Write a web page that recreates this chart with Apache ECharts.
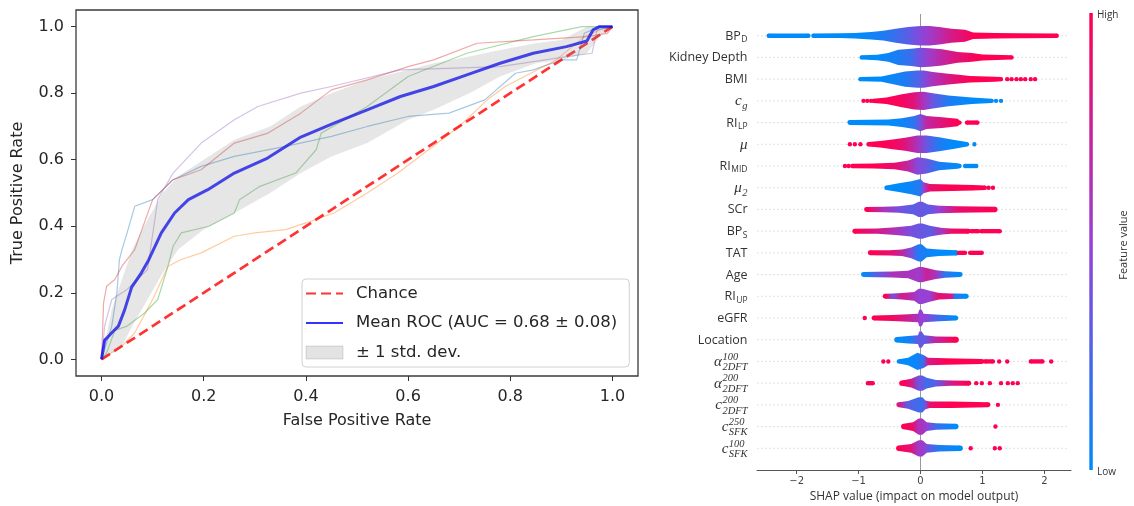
<!DOCTYPE html>
<html><head><meta charset="utf-8">
<script src="https://cdn.jsdelivr.net/npm/echarts@6/dist/echarts.min.js"></script>
<style>html,body{margin:0;padding:0;background:#fff}#main{width:1134px;height:506px}</style>
</head><body><div id="main"></div>
<script>
// ---------------- ROC panel data ----------------
const rocTicks = [0, 0.2, 0.4, 0.6, 0.8, 1.0];
const chance = [[0, 0], [1, 1]];
const meanRoc = [[0,0],[0.006,0.057],[0.02,0.08],[0.033,0.1],[0.045,0.148],[0.059,0.217],[0.078,0.26],[0.092,0.298],[0.117,0.38],[0.143,0.44],[0.17,0.48],[0.208,0.51],[0.26,0.56],[0.325,0.605],[0.39,0.668],[0.455,0.71],[0.52,0.75],[0.585,0.79],[0.65,0.82],[0.715,0.855],[0.78,0.89],[0.845,0.92],[0.91,0.94],[0.95,0.957],[0.962,0.99],[0.975,1.0],[1,1]];
const stdBand = [[0,0,0],[0.02,0.02,0.15],[0.04,0.04,0.24],[0.06,0.1,0.33],[0.09,0.18,0.42],[0.12,0.26,0.5],[0.15,0.33,0.55],[0.2,0.39,0.6],[0.26,0.44,0.66],[0.33,0.5,0.7],[0.39,0.56,0.76],[0.45,0.61,0.8],[0.52,0.65,0.84],[0.6,0.72,0.87],[0.65,0.75,0.89],[0.72,0.8,0.91],[0.78,0.85,0.93],[0.85,0.89,0.95],[0.9,0.9,0.96],[0.95,0.92,1.0],[0.975,0.97,1.0],[1,1,1]];
const fold0 = [[0,0],[0.01,0.05],[0.02,0.1],[0.03,0.2],[0.035,0.3],[0.04,0.33],[0.05,0.38],[0.065,0.46],[0.1,0.48],[0.14,0.54],[0.195,0.58],[0.26,0.61],[0.36,0.64],[0.45,0.67],[0.52,0.7],[0.6,0.73],[0.68,0.74],[0.75,0.78],[0.81,0.86],[0.845,0.87],[0.9,0.9],[0.93,0.9],[0.945,0.98],[0.975,1],[1,1]];
const fold1 = [[0,0],[0.02,0.02],[0.04,0.04],[0.065,0.08],[0.1,0.18],[0.13,0.28],[0.156,0.3],[0.195,0.32],[0.26,0.37],[0.3,0.38],[0.36,0.39],[0.4,0.41],[0.455,0.44],[0.52,0.5],[0.58,0.56],[0.64,0.63],[0.7,0.7],[0.755,0.78],[0.79,0.82],[0.89,0.9],[0.945,0.97],[0.975,0.99],[1,1]];
const fold2 = [[0,0],[0.01,0.02],[0.026,0.087],[0.05,0.1],[0.085,0.14],[0.11,0.18],[0.13,0.28],[0.14,0.34],[0.156,0.38],[0.21,0.4],[0.26,0.44],[0.27,0.48],[0.31,0.52],[0.38,0.56],[0.42,0.63],[0.43,0.68],[0.52,0.76],[0.6,0.85],[0.715,0.92],[0.845,0.97],[0.94,1.0],[1,1]];
const fold3 = [[0,0],[0.004,0.17],[0.01,0.22],[0.026,0.24],[0.04,0.28],[0.065,0.33],[0.1,0.48],[0.14,0.54],[0.195,0.57],[0.26,0.65],[0.326,0.68],[0.39,0.74],[0.45,0.81],[0.52,0.84],[0.6,0.88],[0.65,0.9],[0.735,0.95],[0.845,0.96],[0.95,0.97],[0.99,0.98],[1,1]];
const fold4 = [[0,0],[0.006,0.1],[0.02,0.18],[0.05,0.21],[0.09,0.27],[0.11,0.48],[0.14,0.56],[0.195,0.65],[0.26,0.72],[0.306,0.76],[0.39,0.8],[0.45,0.82],[0.585,0.87],[0.78,0.88],[0.91,0.91],[0.96,0.92],[0.97,0.99],[1,1]];
const legendNames = ['Chance', 'Mean ROC (AUC = 0.68 \u00b1 0.08)', '\u00b1 1 std. dev.'];

// ---------------- SHAP panel data ----------------
const shapTicks = [-2, -1, 0, 1, 2];
const features = ['BP_D','Kidney Depth','BMI','c_g','RI_LP','\u03bc','RI_MID','\u03bc_2','SCr','BP_S','TAT','Age','RI_UP','eGFR','Location','\u03b1^100_2DFT','\u03b1^200_2DFT','c^200_2DFT','c^250_SFK','c^100_SFK'];
// per feature: runs of [shap value, local density (spread), feature value 0=low..1=high]
const swarmRuns = [
  [[[-2.45,2,0],[-1.81,2,0]],
   [[-1.73,2,0],[-1.3,2.2,0],[-1.06,2.5,0],[-0.8,3.5,0.05],[-0.6,4.5,0.1],[-0.4,6.5,0.2],[-0.2,8,0.3],[0,9,0.45],[0.15,9,0.55],[0.3,8,0.65],[0.5,6.5,0.8],[0.72,5.5,0.9],[0.85,3,1],[1.2,2.5,1],[1.6,2.3,1],[2.2,2,1]]],
  [[[-0.95,2,0],[-0.7,2.5,0],[-0.52,4,0.05],[-0.36,7,0.1],[-0.15,8,0.2],[0,9,0.4],[0.15,8.5,0.55],[0.35,7.5,0.7],[0.6,5,0.85],[0.83,4,0.95],[1.0,2.8,1],[1.47,2,1]]],
  [[[-0.97,2,0],[-0.63,2.5,0],[-0.42,5,0.05],[-0.25,7,0.1],[-0.05,8,0.25],[0.05,8,0.4],[0.2,6.5,0.6],[0.45,5,0.8],[0.62,4,0.9],[0.8,3,1],[1.2,2.3,1],[1.3,2,1]]],
  [[[-0.76,2,1],[-0.55,3,1],[-0.3,6,0.95],[-0.1,8,0.85],[0.05,8.5,0.6],[0.2,7,0.35],[0.45,5,0.1],[0.83,3,0],[1.15,2,0]]],
  [[[-1.14,2.3,0],[-0.52,2.8,0],[-0.3,4,0.05],[-0.1,6,0.15],[0,8,0.4],[0.1,6,0.7],[0.35,5,0.85],[0.6,3.5,1],[0.63,2,1]],
   [[0.75,2,1],[0.92,2,1]]],
  [[[-0.84,2,1],[-0.65,3,1],[-0.45,4.5,0.95],[-0.25,6,0.85],[-0.05,8,0.6],[0.1,8,0.35],[0.3,6.5,0.1],[0.55,4,0],[0.75,2,0]]],
  [[[-1.1,2,1],[-0.75,2.3,1],[-0.42,3,0.9],[-0.2,5,0.7],[-0.05,8,0.45],[0.1,7,0.35],[0.3,4,0.1],[0.6,2.5,0],[0.63,2,0]],
   [[0.72,2,0],[0.9,2,0]]],
  [[[-0.55,2,0],[-0.35,4,0],[-0.15,6,0.05],[0,8,0.15],[0.05,5,0.5],[0.15,3.5,0.9],[0.5,3,1],[0.85,2.5,1],[1.04,2,1]]],
  [[[-0.87,2.3,1],[-0.6,2.5,0.6],[-0.35,3,0.4],[-0.12,4.5,0.3],[-0.03,7,0.35],[0.03,7,0.35],[0.12,4.5,0.3],[0.3,3.5,0.5],[0.6,3,0.9],[1.2,2.5,1]]],
  [[[-1.06,2.3,1],[-0.7,2.5,0.8],[-0.4,3.5,0.6],[-0.15,5,0.4],[-0.03,7,0.35],[0.03,7,0.35],[0.15,5,0.3],[0.35,3,0.6],[0.5,2.5,0.9],[0.77,2.3,1]],
   [[0.82,2,1],[0.93,2,1]], [[0.98,2,1],[1.28,2,1]]],
  [[[-0.81,2.3,1],[-0.5,2.5,0.9],[-0.3,3,0.7],[-0.15,5,0.4],[-0.03,8,0.1],[0.02,8,0.1],[0.1,4,0.05],[0.3,3,0],[0.58,2.5,0]],
   [[0.62,2,1],[0.72,2,1]], [[0.8,2,1],[0.99,2,1]]],
  [[[-0.92,2.3,0],[-0.7,2.5,0.3],[-0.45,2.8,0.6],[-0.2,3.5,0.6],[-0.03,7,0.55],[0.03,7,0.6],[0.1,6,0.75],[0.25,4,0.6],[0.4,3,0.15],[0.64,2.3,0]]],
  [[[-0.57,2.3,1],[-0.45,2.5,0.4],[-0.3,3,0.8],[-0.1,4,0.6],[-0.03,7,0.5],[0.03,7,0.5],[0.15,5,0.5],[0.3,3,0.9],[0.5,2.5,0.8],[0.56,2.5,0.1],[0.74,2.3,0]]],
  [[[-0.75,2.3,1],[-0.45,2.8,0.95],[-0.2,3.5,0.75],[-0.04,4,0.6],[-0.02,7.5,0.5],[0.02,7.5,0.5],[0.05,4,0.5],[0.3,3,0.2],[0.57,2.3,0]]],
  [[[-0.38,2.5,0],[-0.2,3.5,0.05],[-0.04,4,0.3],[-0.02,7.5,0.35],[0.02,7.5,0.35],[0.06,4,0.3],[0.25,3,0.7],[0.57,2.8,1]]],
  [[[-0.35,2,0],[-0.2,3.5,0],[-0.05,8,0.05],[0.05,6,0.2],[0.12,3.5,0.8],[0.4,3,1],[0.99,2.3,1]],
   [[1.04,2,1],[1.17,2,1]], [[1.78,2,1],[1.97,2,1]]],
  [[[-0.85,2,1],[-0.77,2,1]],
   [[-0.3,2.5,1],[-0.15,4,0.8],[-0.03,7,0.35],[0.03,7,0.35],[0.1,5,0.2],[0.25,3,0.3],[0.5,2.5,0.8],[0.78,2.3,1]]],
  [[[-0.35,2.3,0.8],[-0.2,3.5,0.3],[-0.03,7,0.2],[0.03,7,0.2],[0.08,4,0.4],[0.15,3,0.9],[0.5,3,1],[1.09,2.3,1]]],
  [[[-0.27,2.5,1],[-0.12,4,0.9],[-0.03,7.5,0.6],[0.03,7.5,0.6],[0.1,4,0.5],[0.25,3,0.2],[0.57,2.5,0]]],
  [[[-0.35,2.5,1],[-0.15,4,0.85],[-0.03,7.5,0.55],[0.03,7.5,0.55],[0.1,4,0.4],[0.3,3,0.1],[0.64,2.5,0]]]
];
// per feature: isolated points [shap value, feature value]
const swarmDots = [
  [], [], [[1.4,1],[1.47,1],[1.55,1],[1.62,1],[1.69,1],[1.78,1],[1.85,1]],
  [[-0.92,1],[-0.86,1],[-0.8,1],[1.22,0],[1.3,0]],
  [], [[-1.14,1],[-1.06,1],[-0.97,1],[0.87,0]],
  [[-1.22,1],[-1.16,1]], [[1.1,1],[1.17,1]], [], [], [], [], [],
  [[-0.9,1]], [],
  [[-0.6,1],[-0.52,1],[1.27,1],[1.4,1],[2.11,1]],
  [[0.9,1],[0.99,1],[1.12,1],[1.3,1],[1.41,1],[1.49,1],[1.57,1]],
  [[1.25,1]], [[1.21,1]], [[0.81,1],[1.2,1],[1.28,1]]
];

// ---------------- helpers ----------------
const CMAP = [[0,139,251],[150,64,214],[255,0,82]];
function fvColor(t) {
  t = Math.max(0, Math.min(1, t));
  const s = t * (CMAP.length - 1), i = Math.min(Math.floor(s), CMAP.length - 2), f = s - i;
  const a = CMAP[i], b = CMAP[i + 1];
  return 'rgb(' + a.map((v, k) => Math.round(v + (b[k] - v) * f)).join(',') + ')';
}
const mctx = document.createElement('canvas').getContext('2d');
function tw(text, font) { mctx.font = font; return mctx.measureText(text).width; }
function parseLabel(s) {
  let base = s, sup = '', sub = '';
  const iu = s.indexOf('^'), is = s.indexOf('_');
  if (iu >= 0) {
    base = s.slice(0, iu); const rest = s.slice(iu + 1); const j = rest.indexOf('_');
    if (j >= 0) { sup = rest.slice(0, j); sub = rest.slice(j + 1); } else sup = rest;
  } else if (is >= 0) { base = s.slice(0, is); sub = s.slice(is + 1); }
  return { base, sup, sub, math: /^[c\u03bc\u03b1]$/.test(base) };
}
const F_TXT = '12.5px "Open Sans"', F_SUB = '8.5px "Open Sans"';
const F_MATH = 'italic 15px "Liberation Serif"', F_MSMALL = 'italic 10.5px "Liberation Serif"';
const ROW_SPREAD = 0.05;

const chart = echarts.init(document.getElementById('main'), null, { renderer: 'canvas' });
const tab = ['#1f77b4', '#ff7f0e', '#2ca02c', '#d62728', '#9467bd'];
const folds = [fold0, fold1, fold2, fold3, fold4];
const rowData = features.map((f, i) => [0, features.length - 1 - i]);

const option = {
  animation: false,
  textStyle: { fontFamily: 'DejaVu Sans' },
  grid: [
    { left: 76, right: 496, top: 10, bottom: 130, show: true, borderColor: '#3a3a3a', borderWidth: 1.3, backgroundColor: 'transparent', containLabel: false, outerBoundsMode: 'none' },
    { left: 757, right: 63, top: 14, bottom: 36, containLabel: false, outerBoundsMode: 'none' }
  ],
  xAxis: [
    { gridIndex: 0, type: 'value', min: -0.05, max: 1.05,
      axisLine: { show: false, onZero: false }, splitLine: { show: false },
      axisTick: { show: true, length: 5, lineStyle: { color: '#333', width: 1 }, customValues: rocTicks },
      axisLabel: { customValues: rocTicks, formatter: v => v.toFixed(1), fontSize: 16, color: '#262626', margin: 13 },
      name: 'False Positive Rate', nameLocation: 'middle', nameGap: 37,
      nameTextStyle: { fontSize: 16, color: '#262626' } },
    { gridIndex: 1, type: 'value', min: -2.64, max: 2.43,
      axisLine: { show: true, onZero: false, lineStyle: { color: '#555', width: 1 } }, splitLine: { show: false },
      axisTick: { show: true, length: 4, lineStyle: { color: '#555' }, customValues: shapTicks },
      axisLabel: { customValues: shapTicks, formatter: v => (v < 0 ? '\u2212' + Math.abs(v) : String(v)), fontSize: 10, color: '#444', margin: 6 },
      name: 'SHAP value (impact on model output)', nameLocation: 'middle', nameGap: 18,
      nameTextStyle: { fontSize: 12, color: '#333', fontFamily: 'Open Sans' } }
  ],
  yAxis: [
    { gridIndex: 0, type: 'value', min: -0.05, max: 1.05,
      axisLine: { show: false, onZero: false }, splitLine: { show: false },
      axisTick: { show: true, length: 5, lineStyle: { color: '#333', width: 1 }, customValues: rocTicks },
      axisLabel: { customValues: rocTicks, formatter: v => v.toFixed(1), fontSize: 16, color: '#262626', margin: 12 },
      name: 'True Positive Rate', nameLocation: 'middle', nameGap: 50,
      nameTextStyle: { fontSize: 16, color: '#262626' } },
    { gridIndex: 1, type: 'value', min: -1, max: 20,
      axisLine: { show: false, onZero: false }, axisTick: { show: false }, axisLabel: { show: false }, splitLine: { show: false } }
  ],
  legend: {
    data: [
      { name: legendNames[0], itemStyle: { opacity: 0 } },
      { name: legendNames[1], itemStyle: { opacity: 0 } },
      { name: legendNames[2], icon: 'rect', itemStyle: { color: 'rgba(128,128,128,0.22)', borderColor: 'rgba(90,90,90,0.2)', borderWidth: 1 } }
    ],
    orient: 'vertical', left: 302, top: 279,
    itemWidth: 37, itemHeight: 13, itemGap: 10.5,
    padding: [5, 12, 5, 3],
    backgroundColor: 'rgba(255,255,255,0.8)', borderColor: '#d0d0d0', borderWidth: 1, borderRadius: 4,
    textStyle: { fontSize: 16.5, color: '#262626', lineHeight: 19, padding: [0, 0, 0, 8] },
    selectedMode: false
  },
  graphic: [
    { type: 'rect', shape: { x: 1089.3, y: 13, width: 3.5, height: 457 },
      style: { fill: new echarts.graphic.LinearGradient(0, 0, 0, 1, [
        { offset: 0, color: fvColor(1) }, { offset: 0.5, color: fvColor(0.5) }, { offset: 1, color: fvColor(0) }]) } },
    { type: 'text', x: 1097, y: 15.5, style: { text: 'High', font: '10px "Open Sans"', fill: '#333', verticalAlign: 'middle' } },
    { type: 'text', x: 1097, y: 472, style: { text: 'Low', font: '10px "Open Sans"', fill: '#333', verticalAlign: 'middle' } },
    { type: 'text', x: 1124, y: 245, rotation: Math.PI / 2, style: { text: 'Feature value', font: '11px "Open Sans"', fill: '#333', align: 'center', verticalAlign: 'middle' } }
  ],
  series: [
    ...folds.map((f, k) => ({
      name: 'ROC fold ' + k, type: 'line', xAxisIndex: 0, yAxisIndex: 0, data: f,
      symbol: 'none', lineStyle: { color: tab[k], width: 1.2, opacity: 0.4 }, z: 2
    })),
    { name: legendNames[0], type: 'line', xAxisIndex: 0, yAxisIndex: 0, data: chance, symbol: 'none',
      itemStyle: { color: 'rgba(255,0,0,0.8)' },
      lineStyle: { color: 'rgba(255,0,0,0.8)', width: 2.7, type: [10, 5] }, z: 3 },
    { name: legendNames[1], type: 'line', xAxisIndex: 0, yAxisIndex: 0, data: meanRoc, symbol: 'none',
      itemStyle: { color: 'rgba(0,0,255,0.8)' },
      lineStyle: { color: 'rgba(0,0,255,0.8)', width: 3 }, z: 4 },
    { name: legendNames[2], type: 'custom', xAxisIndex: 0, yAxisIndex: 0,
      data: stdBand, encode: { x: 0, y: [1, 2] },
      itemStyle: { color: 'rgba(128,128,128,0.22)' }, z: 5, silent: true,
      renderItem: (params, api) => {
        if (params.dataIndex !== 0) return { type: 'group', children: [] };
        const up = stdBand.map(d => api.coord([d[0], d[2]]));
        const lo = stdBand.map(d => api.coord([d[0], d[1]])).reverse();
        return { type: 'polygon', shape: { points: up.concat(lo) }, style: { fill: 'rgba(128,128,128,0.2)' } };
      } },
    // SHAP zero line
    { name: 'zero', type: 'line', xAxisIndex: 1, yAxisIndex: 1, data: [[0, -1], [0, 20]], symbol: 'none',
      lineStyle: { color: '#999', width: 1 }, z: 1, silent: true },
    // SHAP beeswarm
    { name: 'swarm', type: 'custom', xAxisIndex: 1, yAxisIndex: 1, data: rowData, encode: { x: 0, y: 1 }, z: 3, silent: true,
      renderItem: (params, api) => {
        const i = params.dataIndex, row = api.value(1);
        const unit = api.size([0, 1])[1] * ROW_SPREAD;
        const children = [];
        const l = api.coord([-2.64, row]), r = api.coord([2.43, row]);
        children.push({ type: 'line', shape: { x1: l[0], y1: l[1], x2: r[0] - 4, y2: r[1] },
          style: { stroke: '#e4e4e4', lineWidth: 1, lineDash: [2, 2] }, z2: 0 });
        swarmRuns[i].forEach(run => {
          const pts = run.map(p => api.coord([p[0], row]));
          const top = run.map((p, k) => [pts[k][0], pts[k][1] - p[1] * unit]);
          const bot = run.map((p, k) => [pts[k][0], pts[k][1] + p[1] * unit]).reverse();
          const x0 = pts[0][0], x1 = pts[pts.length - 1][0];
          const stops = run.map((p, k) => ({ offset: (pts[k][0] - x0) / Math.max(1e-6, x1 - x0), color: fvColor(p[2]) }));
          children.push({ type: 'polygon', shape: { points: top.concat(bot) },
            style: { fill: new echarts.graphic.LinearGradient(x0, 0, x1, 0, stops, true) }, z2: 1 });
          children.push({ type: 'circle', shape: { cx: x0, cy: pts[0][1], r: run[0][1] * unit }, style: { fill: fvColor(run[0][2]) }, z2: 1 });
          const e = run[run.length - 1];
          children.push({ type: 'circle', shape: { cx: x1, cy: pts[pts.length - 1][1], r: e[1] * unit }, style: { fill: fvColor(e[2]) }, z2: 1 });
        });
        swarmDots[i].forEach(d => {
          const c = api.coord([d[0], row]);
          children.push({ type: 'circle', shape: { cx: c[0], cy: c[1], r: 2.2 }, style: { fill: fvColor(d[1]) }, z2: 2 });
        });
        return { type: 'group', children };
      } },
    // SHAP feature labels
    { name: 'labels', type: 'custom', xAxisIndex: 1, yAxisIndex: 1, data: rowData, encode: { x: 0, y: 1 }, z: 3, silent: true,
      renderItem: (params, api) => {
        const i = params.dataIndex, row = api.value(1);
        const p = api.coord([-2.64, row]);
        const right = p[0] - 9.5, y = p[1] + 0.5;
        const L = parseLabel(features[i]);
        const bf = L.math ? F_MATH : F_TXT, sf = L.math ? F_MSMALL : F_SUB;
        const wb = tw(L.base, bf);
        const ws = Math.max(L.sup ? tw(L.sup, sf) : 0, L.sub ? tw(L.sub, sf) : 0);
        const x0 = right - wb - (ws ? ws + 0.5 : 0);
        const kids = [{ type: 'text', style: { text: L.base, x: x0, y: y, font: bf, fill: '#333', align: 'left', verticalAlign: 'middle' } }];
        if (L.sup) kids.push({ type: 'text', style: { text: L.sup, x: x0 + wb + 0.5, y: y - 5, font: sf, fill: '#333', align: 'left', verticalAlign: 'middle' } });
        if (L.sub) kids.push({ type: 'text', style: { text: L.sub, x: x0 + wb + 0.5, y: y + (L.math ? (L.sup ? 5.5 : 5) : 3.5), font: sf, fill: '#333', align: 'left', verticalAlign: 'middle' } });
        return { type: 'group', children: kids };
      } }
  ]
};
chart.setOption(option);
</script>
</body></html>
